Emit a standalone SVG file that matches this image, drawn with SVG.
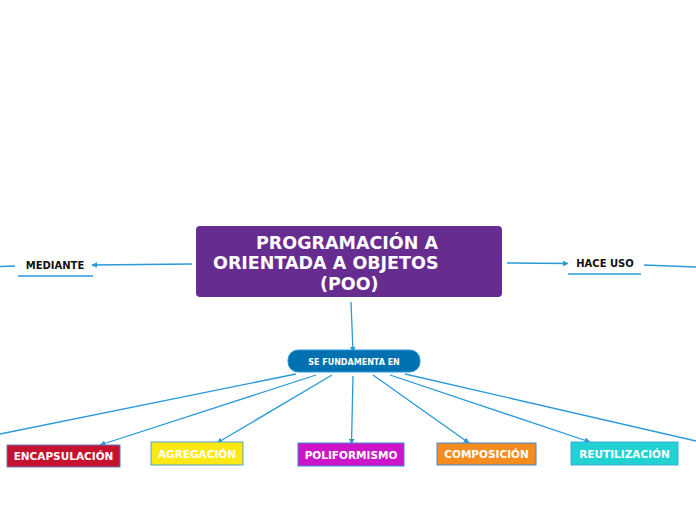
<svg xmlns="http://www.w3.org/2000/svg" width="696" height="520" viewBox="0 0 696 520">
<defs>
<marker id="ah" viewBox="0 0 10 10" refX="9" refY="5" markerWidth="6" markerHeight="6" markerUnits="userSpaceOnUse" orient="auto">
<path d="M0,0 L10,5 L0,10 z" fill="#2a9ad8"/>
</marker>
<style>
.c{stroke:#2a9ad8;stroke-width:1.3;fill:none}
.ca{stroke:#2a9ad8;stroke-width:1.3;fill:none;marker-end:url(#ah)}
text{font-family:"DejaVu Sans","Verdana",sans-serif;font-weight:bold}
.t{fill:#fff;font-size:10.5px;text-anchor:middle}
.lbl{fill:#111;font-size:10px;text-anchor:middle}
.ul{stroke:#2a9ad8;stroke-width:1.3}
.m{fill:#fff;font-size:17.5px}
</style>
</defs>
<rect width="696" height="520" fill="#fff"/>
<g id="connectors">
<path class="ca" d="M192,264 L92,265"/>
<path class="c" d="M15,266 L0,266.5"/>
<path class="ca" d="M507,263 L568,263.5"/>
<path class="c" d="M644,265 L696,267"/>
<path class="ca" d="M351,302 L353,352"/>
<path class="c" d="M296,374 L0,434"/>
<path class="ca" d="M316,375 L100,445"/>
<path class="ca" d="M332,375 L217,443"/>
<path class="ca" d="M353,376 L351.5,444"/>
<path class="ca" d="M373,375 L469,443"/>
<path class="ca" d="M390,375 L590,442"/>
<path class="c" d="M405,374 L696,441"/>
</g>
<g id="main">
<rect x="196" y="226" width="306" height="71" rx="4" fill="#672c8f"/>
<text class="m" x="256" y="249">PROGRAMACIÓN A</text>
<text class="m" x="213" y="269">ORIENTADA A OBJETOS</text>
<text class="m" x="320" y="290">(POO)</text>
</g>
<g id="mediante">
<text class="lbl" x="55" y="269">MEDIANTE</text>
<line class="ul" x1="18" y1="276" x2="93" y2="276"/>
</g>
<g id="hace-uso">
<text class="lbl" x="605" y="267">HACE USO</text>
<line class="ul" x1="568" y1="274" x2="641" y2="274"/>
</g>
<g id="fundamenta">
<rect x="288" y="350" width="132" height="22" rx="10" fill="#0071b0" stroke="#2a9ad8" stroke-width="1"/>
<text x="354" y="364.5" fill="#fff" font-size="8" text-anchor="middle">SE FUNDAMENTA EN</text>
</g>
<g id="encapsulacion">
<rect x="7" y="445" width="113" height="22" fill="#c4122f" stroke="#5b7fb6" stroke-width="1"/>
<text class="t" x="63.5" y="460">ENCAPSULACIÓN</text>
</g>
<g id="agregacion">
<rect x="151" y="442" width="92" height="23" fill="#fce813" stroke="#4aa8c8" stroke-width="1"/>
<text class="t" x="197" y="458">AGREGACIÓN</text>
</g>
<g id="poliformismo">
<rect x="298" y="443" width="106" height="23" fill="#cc14c8" stroke="#3a8ad8" stroke-width="1"/>
<text class="t" x="351" y="459">POLIFORMISMO</text>
</g>
<g id="composicion">
<rect x="437" y="443" width="99" height="22" fill="#f48c20" stroke="#3a8ad8" stroke-width="1"/>
<text class="t" x="486.5" y="458">COMPOSICIÓN</text>
</g>
<g id="reutilizacion">
<rect x="571" y="442" width="107" height="23" fill="#22d1d1" stroke="#3aaee0" stroke-width="1"/>
<text class="t" x="624.5" y="458">REUTILIZACIÓN</text>
</g>
</svg>
